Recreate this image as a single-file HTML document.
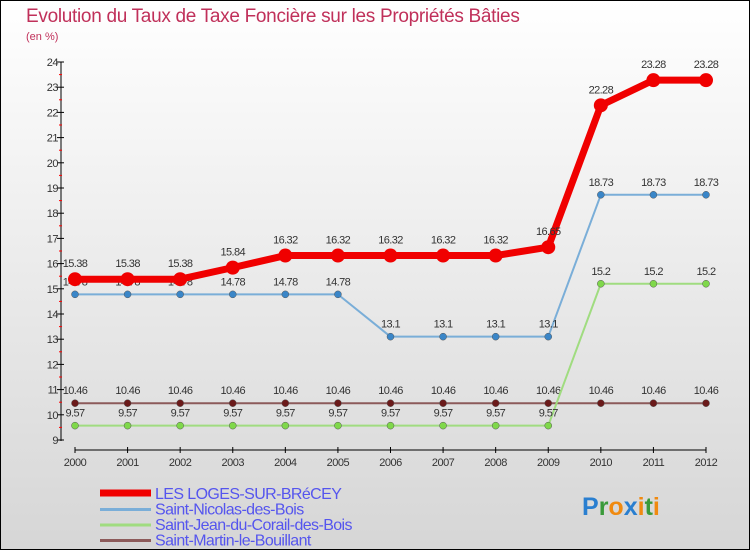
<!DOCTYPE html>
<html><head><meta charset="utf-8"><style>
html,body{margin:0;padding:0}
body{width:750px;height:550px;overflow:hidden}
svg{display:block;font-family:"Liberation Sans",sans-serif}
</style></head><body>
<svg width="750" height="550" xmlns="http://www.w3.org/2000/svg">
<defs><linearGradient id="bg" x1="0" y1="0" x2="0" y2="1"><stop offset="0" stop-color="#ffffff"/><stop offset="1" stop-color="#d6d6d6"/></linearGradient></defs>
<rect x="0.5" y="0.5" width="749" height="549" fill="url(#bg)" stroke="#000"/>
<text x="26" y="22" font-size="19" fill="#c0305a" letter-spacing="-0.3">Evolution du Taux de Taxe Foncière sur les Propriétés Bâties</text>
<text x="26" y="40" font-size="11" fill="#c0305a">(en %)</text>
<g id="axes"></g>
<g id="series"></g>
<g id="legend"></g>
<text x="582" y="515" font-size="25" font-weight="bold"><tspan fill="#2a7fd0">P</tspan><tspan fill="#3a9a3a">r</tspan><tspan fill="#f08a10">o</tspan><tspan fill="#2a7fd0">x</tspan><tspan fill="#f08a10">i</tspan><tspan fill="#3a9a3a">t</tspan><tspan fill="#f08a10">i</tspan></text>
</svg>
<script>
const years=["2000","2001","2002","2003","2004","2005","2006","2007","2008","2009","2010","2011","2012"];
const yTicks=[9,10,11,12,13,14,15,16,17,18,19,20,21,22,23,24];
const logesValues=[15.38,15.38,15.38,15.84,16.32,16.32,16.32,16.32,16.32,16.65,22.28,23.28,23.28];
const nicolasValues=[14.78,14.78,14.78,14.78,14.78,14.78,13.1,13.1,13.1,13.1,18.73,18.73,18.73];
const jeanValues=[9.57,9.57,9.57,9.57,9.57,9.57,9.57,9.57,9.57,9.57,15.2,15.2,15.2];
const martinValues=[10.46,10.46,10.46,10.46,10.46,10.46,10.46,10.46,10.46,10.46,10.46,10.46,10.46];
const seriesNames=["LES LOGES-SUR-BRéCEY","Saint-Nicolas-des-Bois","Saint-Jean-du-Corail-des-Bois","Saint-Martin-le-Bouillant"];
const NS="http://www.w3.org/2000/svg";
const xS=i=>75+i*(706-75)/(years.length-1);
const yS=v=>440-(v-9)*(440-62)/15;
function mk(t,a,p){const e=document.createElementNS(NS,t);for(const k in a)e.setAttribute(k,a[k]);p.appendChild(e);return e;}
const ax=document.getElementById('axes');
let l=mk('line',{x1:61,y1:62,x2:61,y2:441,stroke:'#000','stroke-width':1},ax);


yTicks.forEach(v=>{const y=yS(v);
 mk('line',{x1:57,y1:y,x2:64,y2:y,stroke:'#000'},ax);
 if(v<24)mk('line',{x1:59,y1:y-(440-62)/30,x2:62,y2:y-(440-62)/30,stroke:'#f00'},ax);
 const t=mk('text',{x:58,y:y+4,'font-size':11,fill:'#333','text-anchor':'end','letter-spacing':'-0.5'},ax);t.textContent=v;
 
 });
l=mk('line',{x1:75,y1:450,x2:706,y2:450,stroke:'#000'},ax);


years.forEach((yr,i)=>{const x=xS(i);
 mk('line',{x1:x,y1:447,x2:x,y2:453,stroke:'#000'},ax);
 const t=mk('text',{x:x,y:466,'font-size':11,fill:'#333','text-anchor':'middle','letter-spacing':'-0.5'},ax);t.textContent=yr;
 
 });
const sg=document.getElementById('series');
const defs=[[martinValues,'#6b1a1a','#8c5a5a',2,3.5,'martin'],[jeanValues,'#7fd84a','#a0dc80',2,3.5,'jean'],[nicolasValues,'#3a86c8','#7aaed8',2,3.5,'nicolas'],[logesValues,'#f00000','#f00000',7,7,'loges']];
defs.forEach(([vals,pc,lc,w,r,n])=>{
 const g=mk('g',{},sg);
 
 
 const p=mk('polyline',{points:vals.map((v,i)=>xS(i)+','+yS(v)).join(' '),fill:'none',stroke:lc,'stroke-width':w,'stroke-linejoin':'round'},g);
 
 
 vals.forEach((v,i)=>{
  const c=mk('circle',{cx:xS(i),cy:yS(v),r:r,fill:pc,stroke:n=='loges'?'none':'#555','stroke-width':0.5},g);
  
  
  const t=mk('text',{x:xS(i),y:yS(v)-(n=='loges'?12:9),'font-size':11,fill:'#333','text-anchor':'middle','letter-spacing':'-0.6'},g);
  t.textContent=String(v);
  
  
 });
});
const lg=document.getElementById('legend');
const lcols=['#f00000','#7aaed8','#a0dc80','#8c5a5a'];
seriesNames.forEach((nm,i)=>{const y=492+i*15.5;
 const g=mk('g',{},lg);
 
 
 mk('line',{x1:100,y1:y+(i==0?1:2),x2:151,y2:y+(i==0?1:2),stroke:lcols[i],'stroke-width':i==0?7:3},g);
 const t=mk('text',{x:155,y:y+7,'font-size':16,fill:'#5555ee','letter-spacing':'-0.6'},g);t.textContent=nm;
});
</script>
</body></html>
